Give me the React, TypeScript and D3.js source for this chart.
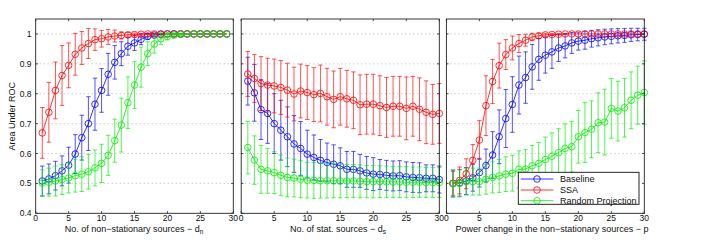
import React from "react";
import * as d3 from "d3";

// ---------------- data ----------------
const xTicks = [0, 5, 10, 15, 20, 25, 30];
const yTicks = [0.4, 0.5, 0.6, 0.7, 0.8, 0.9, 1];
const yTickLabels = ["0.4", "0.5", "0.6", "0.7", "0.8", "0.9", "1"];
const seriesNames = ["Baseline", "SSA", "Random Projection"];
const seriesColors = ["#0000ff", "#ff0000", "#00ee00"];

const xPanel1 = d3.range(1, 30);
const xPanel23 = d3.range(1, 31);

// Panel 1: non-stationary sources
const p1Baseline = [0.508, 0.515, 0.526, 0.542, 0.561, 0.598, 0.653, 0.70, 0.765, 0.811, 0.865, 0.905, 0.934, 0.959, 0.97, 0.982, 0.992, 0.996, 0.999, 1, 1, 1, 1, 1, 1, 1, 1, 1, 1];
const p1BaselineErr = [0.05, 0.05, 0.048, 0.05, 0.06, 0.065, 0.075, 0.09, 0.087, 0.073, 0.07, 0.056, 0.04, 0.03, 0.025, 0.018, 0.01, 0.005, 0.002, 0, 0, 0, 0, 0, 0, 0, 0, 0, 0];
const p1SSA = [0.669, 0.738, 0.811, 0.861, 0.895, 0.932, 0.953, 0.968, 0.981, 0.984, 0.99, 0.993, 0.995, 0.997, 0.998, 0.999, 1, 1, 1, 1, 1, 1, 1, 1, 1, 1, 1, 1, 1];
const p1SSAErr = [0.085, 0.1, 0.095, 0.1, 0.075, 0.07, 0.055, 0.05, 0.036, 0.028, 0.025, 0.02, 0.012, 0.008, 0.005, 0.003, 0.002, 0.001, 0, 0, 0, 0, 0, 0, 0, 0, 0, 0, 0];
const p1RP = [0.501, 0.504, 0.508, 0.513, 0.518, 0.526, 0.531, 0.539, 0.552, 0.567, 0.594, 0.643, 0.695, 0.77, 0.829, 0.889, 0.934, 0.966, 0.984, 0.992, 0.996, 0.998, 1, 1, 1, 1, 1, 1, 1];
const p1RPErr = [0.044, 0.047, 0.05, 0.05, 0.05, 0.055, 0.058, 0.058, 0.06, 0.064, 0.067, 0.072, 0.09, 0.086, 0.078, 0.067, 0.04, 0.03, 0.02, 0.012, 0.006, 0.003, 0, 0, 0, 0, 0, 0, 0];

// Panel 2: stationary sources
const p2Baseline = [0.842, 0.803, 0.747, 0.734, 0.70, 0.678, 0.656, 0.632, 0.617, 0.598, 0.587, 0.577, 0.57, 0.564, 0.559, 0.547, 0.547, 0.542, 0.535, 0.531, 0.53, 0.527, 0.525, 0.526, 0.522, 0.52, 0.519, 0.517, 0.517, 0.513];
const p2BaselineErr = [0.08, 0.095, 0.1, 0.1, 0.1, 0.1, 0.1, 0.095, 0.09, 0.08, 0.075, 0.07, 0.065, 0.065, 0.06, 0.06, 0.06, 0.055, 0.055, 0.055, 0.05, 0.05, 0.05, 0.05, 0.05, 0.05, 0.05, 0.045, 0.045, 0.045];
const p2SSA = [0.866, 0.851, 0.834, 0.829, 0.826, 0.821, 0.812, 0.799, 0.809, 0.804, 0.797, 0.801, 0.79, 0.781, 0.79, 0.783, 0.778, 0.763, 0.765, 0.765, 0.76, 0.754, 0.758, 0.758, 0.751, 0.758, 0.748, 0.738, 0.731, 0.734];
const p2SSAErr = [0.075, 0.08, 0.09, 0.09, 0.09, 0.09, 0.09, 0.09, 0.09, 0.09, 0.09, 0.095, 0.095, 0.095, 0.095, 0.095, 0.095, 0.1, 0.1, 0.1, 0.1, 0.1, 0.1, 0.1, 0.105, 0.1, 0.105, 0.105, 0.1, 0.1];
const p2RP = [0.62, 0.578, 0.547, 0.542, 0.536, 0.527, 0.52, 0.518, 0.514, 0.511, 0.51, 0.509, 0.509, 0.509, 0.508, 0.508, 0.508, 0.507, 0.506, 0.506, 0.506, 0.505, 0.505, 0.505, 0.504, 0.504, 0.504, 0.503, 0.503, 0.503];
const p2RPErr = [0.088, 0.081, 0.08, 0.075, 0.07, 0.068, 0.065, 0.063, 0.062, 0.06, 0.06, 0.058, 0.058, 0.057, 0.056, 0.055, 0.055, 0.055, 0.054, 0.054, 0.053, 0.053, 0.052, 0.052, 0.052, 0.051, 0.051, 0.05, 0.05, 0.05];

// Panel 3: power change
const p3Baseline = [0.5, 0.502, 0.508, 0.519, 0.536, 0.56, 0.595, 0.656, 0.717, 0.764, 0.829, 0.854, 0.89, 0.915, 0.929, 0.94, 0.953, 0.96, 0.97, 0.976, 0.979, 0.984, 0.987, 0.99, 0.992, 0.994, 0.995, 0.997, 0.998, 0.999];
const p3BaselineErr = [0.045, 0.045, 0.045, 0.045, 0.048, 0.055, 0.078, 0.09, 0.097, 0.093, 0.097, 0.086, 0.075, 0.07, 0.06, 0.055, 0.045, 0.04, 0.035, 0.03, 0.03, 0.028, 0.027, 0.026, 0.025, 0.024, 0.023, 0.022, 0.021, 0.02];
const p3SSA = [0.5, 0.51, 0.532, 0.577, 0.645, 0.76, 0.841, 0.894, 0.931, 0.953, 0.968, 0.979, 0.99, 0.994, 0.997, 0.998, 0.999, 1, 1, 1, 1, 1, 1, 1, 1, 1, 1, 1, 1, 1];
const p3SSAErr = [0.04, 0.045, 0.05, 0.053, 0.065, 0.1, 0.074, 0.075, 0.05, 0.04, 0.03, 0.02, 0.012, 0.008, 0.005, 0.003, 0.002, 0.001, 0, 0, 0, 0, 0, 0, 0, 0, 0, 0, 0, 0];
const p3RP = [0.499, 0.5, 0.506, 0.506, 0.506, 0.514, 0.52, 0.525, 0.531, 0.534, 0.547, 0.548, 0.559, 0.567, 0.58, 0.591, 0.603, 0.617, 0.623, 0.656, 0.67, 0.681, 0.703, 0.705, 0.751, 0.742, 0.753, 0.778, 0.795, 0.804];
const p3RPErr = [0.045, 0.045, 0.045, 0.045, 0.045, 0.05, 0.052, 0.055, 0.058, 0.06, 0.062, 0.065, 0.068, 0.07, 0.075, 0.078, 0.08, 0.082, 0.085, 0.088, 0.1, 0.095, 0.1, 0.11, 0.1, 0.1, 0.098, 0.095, 0.097, 0.106];

// ---------------- layout ----------------
const W = 708;
const H = 242;
const FONT = "'Liberation Sans', Arial, Helvetica, sans-serif";
const plotTop = 19;
const plotBottom = 213.3;
const panelRanges: [number, number][] = [
  [35.7, 233.3],
  [241.2, 439.3],
  [446.4, 644.3],
];

type Series = { x: number[]; y: number[]; e: number[] };
type PanelDef = { series: Series[]; title: string; sub?: string; titleX: number };

const panels: PanelDef[] = [
  {
    series: [
      { x: xPanel1, y: p1Baseline, e: p1BaselineErr },
      { x: xPanel1, y: p1SSA, e: p1SSAErr },
      { x: xPanel1, y: p1RP, e: p1RPErr },
    ],
    title: "No. of non\u2212stationary sources \u2212 d",
    sub: "n",
    titleX: 134,
  },
  {
    series: [
      { x: xPanel23, y: p2Baseline, e: p2BaselineErr },
      { x: xPanel23, y: p2SSA, e: p2SSAErr },
      { x: xPanel23, y: p2RP, e: p2RPErr },
    ],
    title: "No. of stat. sources \u2212 d",
    sub: "s",
    titleX: 338,
  },
  {
    series: [
      { x: xPanel23, y: p3Baseline, e: p3BaselineErr },
      { x: xPanel23, y: p3SSA, e: p3SSAErr },
      { x: xPanel23, y: p3RP, e: p3RPErr },
    ],
    title: "Power change in the non\u2212stationary sources \u2212 p",
    titleX: 552,
  },
];

const y = d3.scaleLinear().domain([0.4, 1.05]).range([plotBottom, plotTop]);

function Panel({ def, idx }: { def: PanelDef; idx: number }) {
  const [x0, x1] = panelRanges[idx];
  const x = d3.scaleLinear().domain([0, 30]).range([x0, x1]);
  const tickLen = 2.2;
  const cap = 2.2;
  return (
    <g>
      {/* grid */}
      {yTicks
        .filter((t) => t > 0.4)
        .map((t) => (
          <line key={"g" + t} x1={x0} x2={x1} y1={y(t)} y2={y(t)} stroke="#8a8a8a" strokeWidth={0.6} strokeDasharray="1 3" />
        ))}
      {/* series */}
      {def.series.map((s, si) => {
        const col = seriesColors[si];
        const path = d3
          .line<number>()
          .x((_, i) => x(s.x[i]))
          .y((v) => y(v))(s.y);
        return (
          <g key={si}>
            {s.y.map((v, i) => {
              if (s.e[i] <= 0) return null;
              const cx = x(s.x[i]);
              const yt = y(v + s.e[i]);
              const yb = y(v - s.e[i]);
              return (
                <g key={i} stroke={col} strokeWidth={0.8} strokeOpacity={0.85}>
                  <line x1={cx} x2={cx} y1={yt} y2={yb} />
                  <line x1={cx - cap} x2={cx + cap} y1={yt} y2={yt} />
                  <line x1={cx - cap} x2={cx + cap} y1={yb} y2={yb} />
                </g>
              );
            })}
            <path d={path || ""} fill="none" stroke={col} strokeWidth={0.8} />
            {s.y.map((v, i) => (
              <circle key={"c" + i} cx={x(s.x[i])} cy={y(v)} r={3.3} fill="none" stroke={col} strokeWidth={0.8} />
            ))}
          </g>
        );
      })}
      {/* frame */}
      <rect x={x0} y={plotTop} width={x1 - x0} height={plotBottom - plotTop} fill="none" stroke="#222" strokeWidth={0.9} />
      {/* x ticks */}
      {xTicks.map((t) => (
        <g key={"xt" + t}>
          <line x1={x(t)} x2={x(t)} y1={plotBottom} y2={plotBottom - tickLen} stroke="#222" strokeWidth={0.8} />
          <line x1={x(t)} x2={x(t)} y1={plotTop} y2={plotTop + tickLen} stroke="#222" strokeWidth={0.8} />
          <text x={x(t)} y={221.3} fontSize={8.5} fontFamily={FONT} textAnchor="middle" fill="#111">
            {t}
          </text>
        </g>
      ))}
      {/* y ticks */}
      {yTicks.map((t, i) => (
        <g key={"yt" + t}>
          <line x1={x0} x2={x0 + tickLen} y1={y(t)} y2={y(t)} stroke="#222" strokeWidth={0.8} />
          <line x1={x1} x2={x1 - tickLen} y1={y(t)} y2={y(t)} stroke="#222" strokeWidth={0.8} />
          {idx === 0 && (
            <text x={31.5} y={y(t) + 3} fontSize={8.5} fontFamily={FONT} textAnchor="end" fill="#111">
              {yTickLabels[i]}
            </text>
          )}
        </g>
      ))}
      {/* x title */}
      <text x={def.titleX} y={231.5} fontSize={9} fontFamily={FONT} textAnchor="middle" fill="#111">
        {def.title}
        {def.sub && (
          <tspan fontSize={6.5} dy={2.6}>
            {def.sub}
          </tspan>
        )}
      </text>
    </g>
  );
}

function Legend() {
  const lx0 = 518.3;
  const ly0 = 172.3;
  const lw = 120.7;
  const lh = 32;
  const rows = [179, 190, 200.7];
  return (
    <g>
      <rect x={lx0} y={ly0} width={lw} height={lh} fill="#fff" stroke="#111" strokeWidth={0.9} />
      {seriesNames.map((n, i) => (
        <g key={n}>
          <line x1={520.7} x2={553.3} y1={rows[i]} y2={rows[i]} stroke={seriesColors[i]} strokeWidth={0.8} />
          <circle cx={537} cy={rows[i]} r={3.3} fill="none" stroke={seriesColors[i]} strokeWidth={0.8} />
          <text x={560} y={rows[i] + 3.2} fontSize={9} fontFamily={FONT} fill="#111">
            {n}
          </text>
        </g>
      ))}
    </g>
  );
}

export default function App() {
  return (
    <svg
      width={W}
      height={H}
      viewBox={`0 0 ${W} ${H}`}
      style={{ position: "absolute", left: 0, top: 0, background: "#fff" }}
    >
      <rect x={0} y={0} width={W} height={H} fill="#fff" />
      {panels.map((p, i) => (
        <Panel key={i} def={p} idx={i} />
      ))}
      <Legend />
      <text
        transform={`translate(14.5, ${(plotTop + plotBottom) / 2}) rotate(-90)`}
        fontSize={9}
        fontFamily={FONT}
        textAnchor="middle"
        fill="#111"
      >
        Area Under ROC
      </text>
    </svg>
  );
}
